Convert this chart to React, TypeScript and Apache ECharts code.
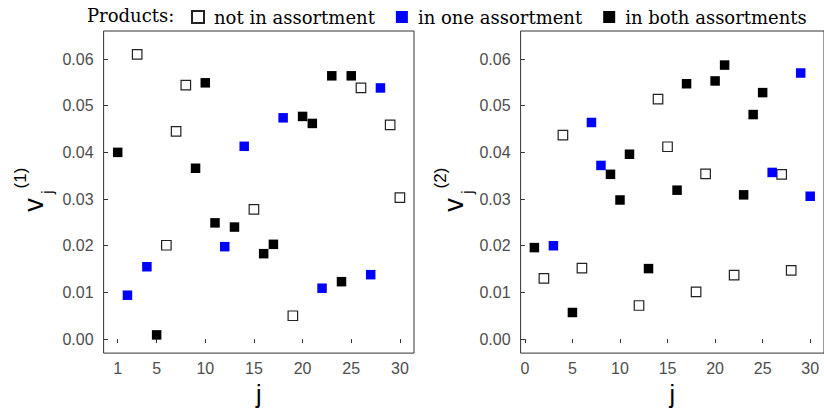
import React, { useEffect, useRef } from "react";
import * as echarts from "echarts";

// j index (products)
const jIndex = [1, 2, 3, 4, 5, 6, 7, 8, 9, 10, 11, 12, 13, 14, 15, 16, 17, 18, 19, 20, 21, 22, 23, 24, 25, 26, 27, 28, 29, 30];

// left panel v_j^(1)
const v1 = [0.0400, 0.0094, 0.0610, 0.0155, 0.0009, 0.0201, 0.0445, 0.0544, 0.0366, 0.0549,
  0.0249, 0.0198, 0.0240, 0.0413, 0.0278, 0.0183, 0.0203, 0.0474, 0.0050, 0.0477,
  0.0462, 0.0109, 0.0564, 0.0123, 0.0564, 0.0538, 0.0138, 0.0538, 0.0459, 0.0303];
// 0 = not in assortment, 1 = in one assortment, 2 = in both assortments
const s1 = [2, 1, 0, 1, 2, 0, 0, 0, 2, 2, 2, 1, 2, 1, 0, 2, 2, 1, 0, 2, 2, 1, 2, 2, 2, 0, 1, 1, 0, 0];

// right panel v_j^(2)
const v2 = [0.0196, 0.0130, 0.0200, 0.0437, 0.0057, 0.0152, 0.0464, 0.0372, 0.0353, 0.0298,
  0.0396, 0.0072, 0.0151, 0.0514, 0.0412, 0.0319, 0.0547, 0.0101, 0.0354, 0.0553,
  0.0587, 0.0137, 0.0309, 0.0481, 0.0528, 0.0357, 0.0353, 0.0147, 0.0570, 0.0306];
const s2 = [2, 0, 1, 0, 2, 0, 1, 1, 2, 2, 2, 0, 2, 0, 0, 2, 2, 0, 0, 2, 2, 0, 2, 2, 2, 1, 0, 0, 1, 1];

const groupNames = ["not in assortment", "in one assortment", "in both assortments"];
const xTicksLeft = [1, 5, 10, 15, 20, 25, 30];
const xTicksRight = [0, 5, 10, 15, 20, 25, 30];
const yTicks = [0, 0.01, 0.02, 0.03, 0.04, 0.05, 0.06];

const SANS = "Liberation Sans";
const SERIF = "DejaVu Serif";

const groupStyles = [
  { color: "#ffffff", borderColor: "#222222", borderWidth: 1.2, opacity: 1 },
  { color: "#0000ff", borderWidth: 0, opacity: 1 },
  { color: "#000000", borderWidth: 0, opacity: 1 },
];

function makeSeries(values: number[], status: number[], idx: number) {
  return groupNames.map((name, g) => ({
    type: "scatter",
    name,
    xAxisIndex: idx,
    yAxisIndex: idx,
    symbol: "rect",
    symbolSize: 9.5,
    itemStyle: groupStyles[g],
    emphasis: { disabled: true },
    data: jIndex
      .map((j, i) => (status[i] === g ? [j, values[i]] : null))
      .filter((d) => d !== null),
  }));
}

function xAxis(idx: number, ticks: number[]) {
  return {
    type: "value",
    gridIndex: idx,
    min: -0.45,
    max: 31.45,
    axisLine: { show: false },
    splitLine: { show: false },
    axisTick: { show: true, customValues: ticks, length: 4, lineStyle: { color: "#333333" } },
    axisLabel: { customValues: ticks, margin: 7, fontFamily: SANS, fontSize: 16, color: "#4d4d4d" },
    name: "j",
    nameLocation: "middle",
    nameGap: 25,
    nameTextStyle: { fontFamily: SANS, fontSize: 25, color: "#000000" },
  };
}

function yAxis(idx: number) {
  return {
    type: "value",
    gridIndex: idx,
    min: -0.003,
    max: 0.066,
    axisLine: { show: false },
    splitLine: { show: false },
    axisTick: { show: true, customValues: yTicks, length: 4, lineStyle: { color: "#333333" } },
    axisLabel: {
      customValues: yTicks,
      margin: 10,
      fontFamily: SANS,
      fontSize: 16,
      color: "#4d4d4d",
      formatter: (v: number) => v.toFixed(2),
    },
  };
}

function yTitle(cx: number, sup: string) {
  const base = { rotation: Math.PI / 2, silent: true };
  return [
    {
      type: "text",
      x: cx,
      y: 205,
      ...base,
      style: { text: "v", fontFamily: SANS, fontSize: 27, fill: "#000", textAlign: "center", textVerticalAlign: "middle" },
    },
    {
      type: "text",
      x: cx + 13,
      y: 192,
      ...base,
      style: { text: "j", fontFamily: SANS, fontSize: 17, fill: "#000", textAlign: "center", textVerticalAlign: "middle" },
    },
    {
      type: "text",
      x: cx - 14,
      y: 178,
      ...base,
      style: { text: sup, fontFamily: SANS, fontSize: 17, fill: "#000", textAlign: "center", textVerticalAlign: "middle" },
    },
  ];
}

export default function App() {
  const ref = useRef<HTMLDivElement>(null);
  useEffect(() => {
    if (!ref.current) return;
    const chart = echarts.init(ref.current, null, { renderer: "svg" });
    chart.setOption({
      animation: false,
      backgroundColor: "#ffffff",
      legend: {
        data: groupNames,
        left: 186,
        top: 3,
        icon: "rect",
        itemWidth: 12,
        itemHeight: 12,
        itemGap: 21,
        selectedMode: false,
        textStyle: { fontFamily: SERIF, fontSize: 18, color: "#000000", padding: [0, 0, 0, 5] },
      },
      grid: [
        { left: 103.6, top: 31, width: 310.4, height: 324.3, show: true, borderColor: "#333333", borderWidth: 1, backgroundColor: "transparent" },
        { left: 520.6, top: 31, width: 310.4, height: 324.3, show: true, borderColor: "#333333", borderWidth: 1, backgroundColor: "transparent" },
      ],
      xAxis: [xAxis(0, xTicksLeft), xAxis(1, xTicksRight)],
      yAxis: [yAxis(0), yAxis(1)],
      series: [...makeSeries(v1, s1, 0), ...makeSeries(v2, s2, 1)],
      graphic: [
        {
          type: "text",
          x: 87,
          y: 15,
          silent: true,
          style: { text: "Products:", fontFamily: SERIF, fontSize: 18, fill: "#000", textAlign: "left", textVerticalAlign: "middle" },
        },
        ...yTitle(34, "(1)"),
        ...yTitle(454, "(2)"),
      ],
    });
    return () => chart.dispose();
  }, []);
  return (
    <div
      ref={ref}
      style={{ position: "fixed", left: 0, top: 0, width: 824, height: 411 }}
    />
  );
}
